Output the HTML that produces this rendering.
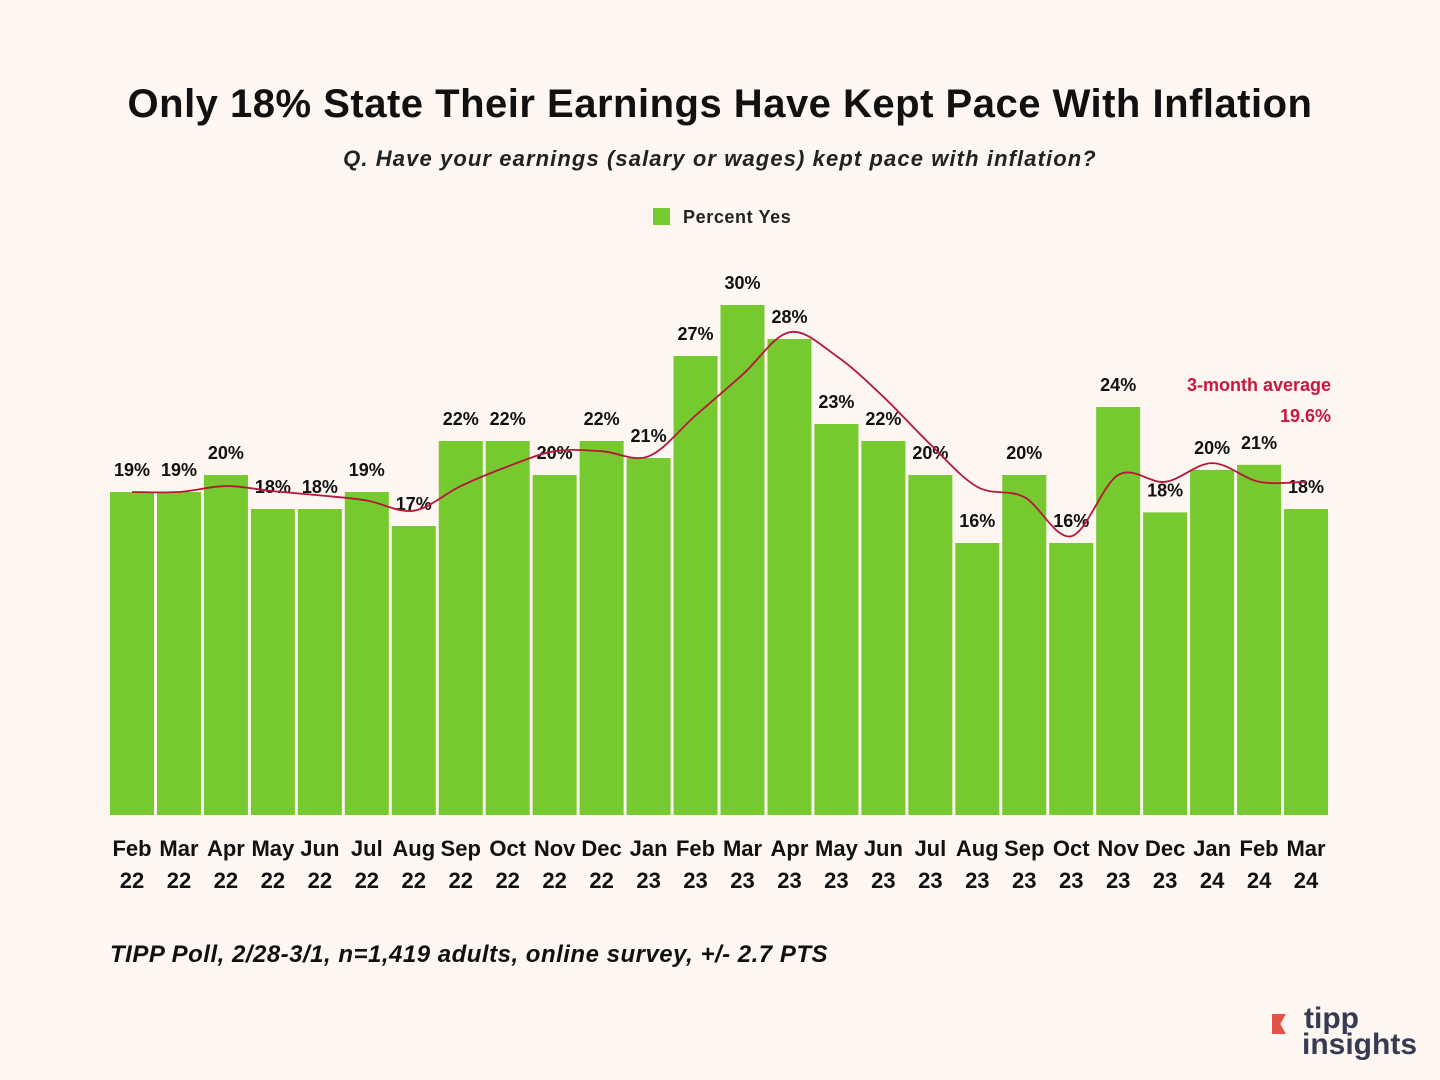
<!DOCTYPE html>
<html><head><meta charset="utf-8"><style>
html,body{margin:0;padding:0;background:#fdf6f1;}
body{width:1440px;height:1080px;position:relative;font-family:"Liberation Sans",sans-serif;overflow:hidden}
.t{position:absolute;left:0;width:1440px;text-align:center}
</style></head><body>
<div class="t" style="top:82px;font-size:40px;font-weight:bold;color:#111;letter-spacing:0.5px">Only 18% State Their Earnings Have Kept Pace With Inflation</div>
<div class="t" style="top:146px;font-size:22px;font-style:italic;font-weight:bold;color:#222;letter-spacing:1.1px">Q. Have your earnings (salary or wages) kept pace with inflation?</div>
<div style="position:absolute;left:653px;top:207px;font-size:18px;font-weight:bold;color:#222;letter-spacing:0.6px"><span style="display:inline-block;width:17px;height:17px;background:#76c92f;vertical-align:-2px;margin-right:13px"></span>Percent Yes</div>
<svg id="chart" width="1440" height="1080" style="position:absolute;left:0;top:0"></svg>
<div style="position:absolute;left:110px;top:941px;font-size:24px;font-style:italic;font-weight:bold;color:#111;letter-spacing:0.5px">TIPP Poll, 2/28-3/1, n=1,419 adults, online survey, +/- 2.7 PTS</div>
<div style="position:absolute;left:1262px;top:1008px;width:160px;height:60px">
<div style="position:absolute;left:10px;top:6px;width:14px;height:20px;background:#e5524a;clip-path:polygon(0 0,100% 0,60% 50%,100% 100%,0 100%)"></div>
<div style="position:absolute;left:42px;top:-4px;font-size:30px;font-weight:bold;color:#363a52;line-height:30px">tipp</div>
<div style="position:absolute;left:40px;top:22px;font-size:30px;font-weight:bold;color:#363a52;line-height:30px">insights</div>
</div>
<script>
const categories=["Feb 22","Mar 22","Apr 22","May 22","Jun 22","Jul 22","Aug 22","Sep 22","Oct 22","Nov 22","Dec 22","Jan 23","Feb 23","Mar 23","Apr 23","May 23","Jun 23","Jul 23","Aug 23","Sep 23","Oct 23","Nov 23","Dec 23","Jan 24","Feb 24","Mar 24"];
const values=[19,19,20,18,18,19,17,22,22,20,22,21,27,30,28,23,22,20,16,20,16,24,17.8,20.3,20.6,18];
const labels=["19%","19%","20%","18%","18%","19%","17%","22%","22%","20%","22%","21%","27%","30%","28%","23%","22%","20%","16%","20%","16%","24%","18%","20%","21%","18%"];
const avg=[19,19,19.35,19.05,18.8,18.5,17.9,19.35,20.5,21.4,21.4,21.1,23.5,25.9,28.4,27,24.6,21.8,19.3,18.7,16.4,20,19.6,20.7,19.6,19.6];
const svg=document.getElementById('chart');const NS='http://www.w3.org/2000/svg';
const x0=110,slot=(1331-110)/26,bw=44,base=815,pxPer=17;
const X=i=>x0+i*slot;const Y=v=>base-v*pxPer;
function mk(t,a){const e=document.createElementNS(NS,t);for(const k in a)e.setAttribute(k,a[k]);svg.appendChild(e);return e;}
categories.forEach((c,i)=>{
 const r=mk('rect',{x:X(i),y:Y(values[i]),width:bw,height:base-Y(values[i]),fill:'#76c92f'});
 
 
 const t=mk('text',{x:X(i)+bw/2,y:Y(values[i])-16,'text-anchor':'middle','font-size':18,'font-weight':'bold',fill:'#111','font-family':'Liberation Sans'});
 t.textContent=labels[i];
 
 
 const p=c.split(' ');
 const a=mk('text',{x:X(i)+bw/2,y:856,'text-anchor':'middle','font-size':22,'font-weight':'bold',fill:'#111','font-family':'Liberation Sans'});a.textContent=p[0];
 
 
 const b=mk('text',{x:X(i)+bw/2,y:888,'text-anchor':'middle','font-size':22,'font-weight':'bold',fill:'#111','font-family':'Liberation Sans'});b.textContent=p[1];
 
 
});
const pts=avg.map((v,i)=>[X(i)+bw/2,Y(v)]);
let d='M'+pts[0][0]+','+pts[0][1];
for(let i=0;i<pts.length-1;i++){const p0=pts[i-1]||pts[i],p1=pts[i],p2=pts[i+1],p3=pts[i+2]||p2;
 d+=' C'+(p1[0]+(p2[0]-p0[0])/6)+','+(p1[1]+(p2[1]-p0[1])/6)+' '+(p2[0]-(p3[0]-p1[0])/6)+','+(p2[1]-(p3[1]-p1[1])/6)+' '+p2[0]+','+p2[1];}
const l=mk('path',{d:d,fill:'none',stroke:'#b5173c','stroke-width':1.8});


const a1=mk('text',{x:1331,y:391,'text-anchor':'end','font-size':18,'font-weight':'bold',fill:'#c8173f','font-family':'Liberation Sans'});a1.textContent='3-month average';


const a2=mk('text',{x:1331,y:422,'text-anchor':'end','font-size':18,'font-weight':'bold',fill:'#c8173f','font-family':'Liberation Sans'});a2.textContent='19.6%';


</script>
</body></html>
